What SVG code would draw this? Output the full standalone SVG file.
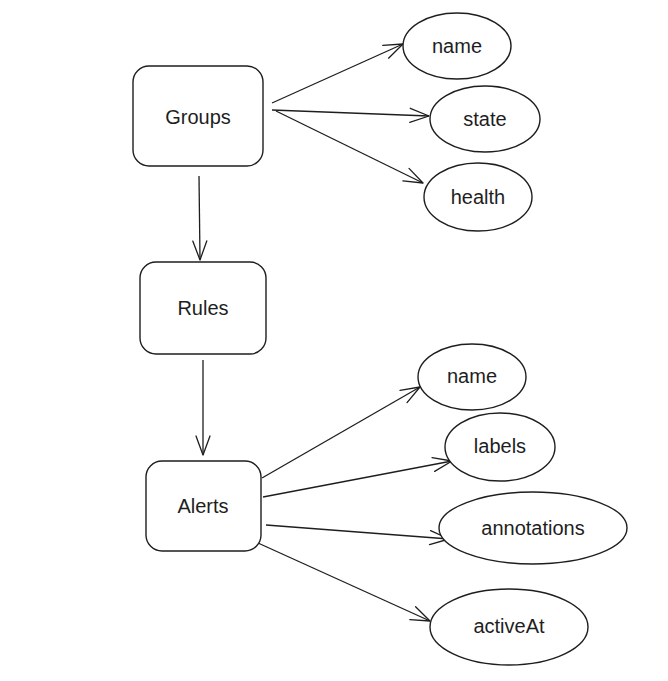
<svg xmlns="http://www.w3.org/2000/svg" width="668" height="681" viewBox="0 0 668 681">
<defs>
<marker id="arr" viewBox="0 0 24 24" refX="22" refY="12" markerWidth="24" markerHeight="24" markerUnits="userSpaceOnUse" orient="auto">
<path d="M3,5 L22,12 L3,19" fill="none" stroke="#1e1e1e" stroke-width="1.3" stroke-linecap="round" stroke-linejoin="round"/>
</marker>
</defs>
<style>
.box{fill:#fff;stroke:#1e1e1e;stroke-width:1.4}
.ell{fill:#fff;stroke:#1e1e1e;stroke-width:1.4}
.lbl{font-family:"Liberation Sans",Arial,sans-serif;font-size:20px;fill:#1e1e1e;text-anchor:middle;dominant-baseline:central}
.con{fill:none;stroke:#1e1e1e;stroke-width:1.3;marker-end:url(#arr)}
</style>
<rect width="668" height="681" fill="#fff"/>
<g id="connectors">
<path class="con" d="M272,103 L403,44"/>
<path class="con" d="M272,110 L429,116"/>
<path class="con" d="M276,111 L423,183"/>
<path class="con" d="M199,176 L200,260"/>
<path class="con" d="M203,360 L203,455"/>
<path class="con" d="M262,478 L420,387"/>
<path class="con" d="M263,497 L452,461"/>
<path class="con" d="M266,525 L449,539"/>
<path class="con" d="M258,543 L430,621"/>
</g>
<g id="groups"><rect class="box" x="133" y="66" width="130" height="100" rx="16"/><text class="lbl" x="198" y="117">Groups</text></g>
<g id="rules"><rect class="box" x="140" y="262" width="126" height="92" rx="16"/><text class="lbl" x="203" y="308">Rules</text></g>
<g id="alerts"><rect class="box" x="146" y="461" width="115" height="90" rx="16"/><text class="lbl" x="203" y="506">Alerts</text></g>
<g id="g-name"><ellipse class="ell" cx="457" cy="46" rx="54" ry="33"/><text class="lbl" x="457" y="46">name</text></g>
<g id="g-state"><ellipse class="ell" cx="485" cy="119" rx="55" ry="33"/><text class="lbl" x="485" y="119">state</text></g>
<g id="g-health"><ellipse class="ell" cx="478" cy="197" rx="54" ry="34"/><text class="lbl" x="478" y="197">health</text></g>
<g id="a-name"><ellipse class="ell" cx="472" cy="377" rx="54" ry="33"/><text class="lbl" x="472" y="376">name</text></g>
<g id="a-labels"><ellipse class="ell" cx="500" cy="447" rx="55" ry="34"/><text class="lbl" x="500" y="446">labels</text></g>
<g id="a-annotations"><ellipse class="ell" cx="533" cy="528" rx="94" ry="36"/><text class="lbl" x="533" y="528">annotations</text></g>
<g id="a-activeAt"><ellipse class="ell" cx="509" cy="627" rx="79" ry="38"/><text class="lbl" x="509" y="626">activeAt</text></g>
</svg>
